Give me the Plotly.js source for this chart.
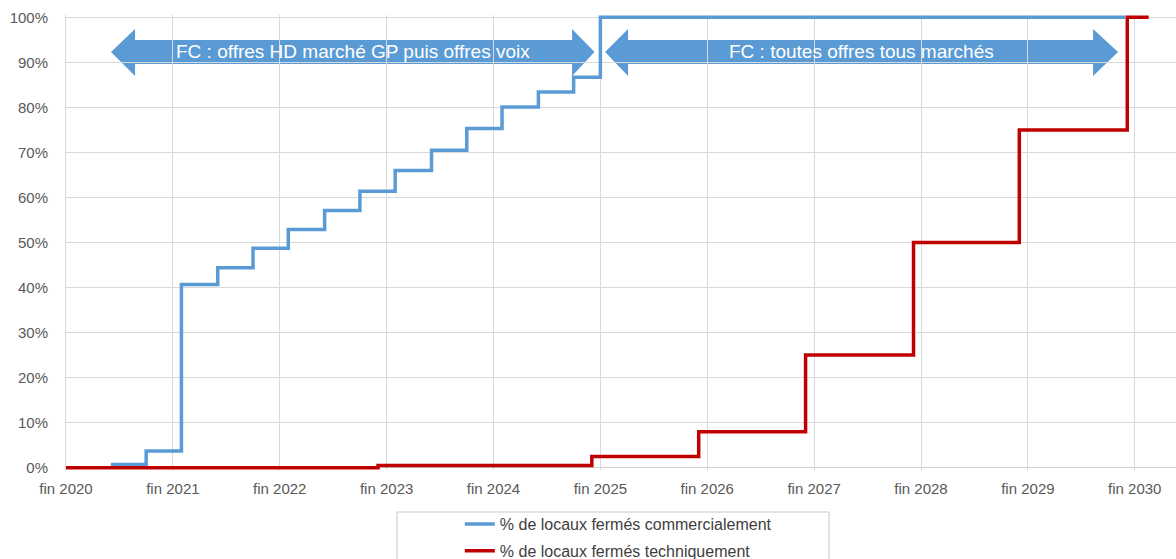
<!DOCTYPE html>
<html>
<head>
<meta charset="utf-8">
<script src="https://cdn.plot.ly/plotly-3.0.1.min.js"></script>
<style>
html,body{margin:0;padding:0;background:#fff;}
#chart{width:1176px;height:559px;}
</style>
</head>
<body>
<div id="chart"></div>
<script>
// Tick positions (years after "fin 2020") and labels
const tickPos = [0,1,2,3,4,5,6,7,8,9,10];
const tickLabels = ["fin 2020","fin 2021","fin 2022","fin 2023","fin 2024","fin 2025","fin 2026","fin 2027","fin 2028","fin 2029","fin 2030"];
const yTickVals = [0,0.1,0.2,0.3,0.4,0.5,0.6,0.7,0.8,0.9,1];
const yTickText = ["0%","10%","20%","30%","40%","50%","60%","70%","80%","90%","100%"];

// Series: % de locaux fermés commercialement (step starts)
const commX = [0.42,0.75,1.08,1.42,1.75,2.08,2.42,2.75,3.08,3.42,3.75,4.08,4.42,4.75,5.00,9.91];
const commY = [0.007,0.037,0.407,0.444,0.487,0.529,0.571,0.614,0.660,0.705,0.753,0.801,0.834,0.867,1.0,1.0];

// Series: % de locaux fermés techniquement
const techX = [0,2.92,4.92,5.92,6.92,7.93,8.92,9.93,10.13];
const techY = [0,0.005,0.025,0.08,0.25,0.50,0.75,1.0,1.0];

const seriesNames = ["% de locaux fermés commercialement","% de locaux fermés techniquement"];
const arrowLabels = ["FC : offres HD marché GP puis offres voix","FC : toutes offres tous marchés"];

const BLUE = "#5B9BD5", RED = "#C00000";
const FONT = "Liberation Sans, Arial, sans-serif";

// double-headed block arrow path (x in axis units, y in axis units)
function dblArrow(xl, xlb, xrb, xr, yt, yb, ht, hb){
  const ym = (yt+yb)/2;
  return `M${xl},${ym} L${xlb},${ht} L${xlb},${yt} L${xrb},${yt} L${xrb},${ht} L${xr},${ym} L${xrb},${hb} L${xrb},${yb} L${xlb},${yb} L${xlb},${hb} Z`;
}

const traces = [
  {x: commX, y: commY, type:"scatter", mode:"lines", line:{shape:"hv", color:BLUE, width:3.5},
   name: seriesNames[0], legendgroup:"a", hoverinfo:"skip"},
  {x: techX, y: techY, type:"scatter", mode:"lines", line:{shape:"hv", color:RED, width:3.5},
   name: seriesNames[1], legendgroup:"b", hoverinfo:"skip"}
];

const layout = {
  width:1176, height:559,
  margin:{l:66, r:0, t:15, b:89, autoexpand:false},
  paper_bgcolor:"#fff", plot_bgcolor:"#fff",
  font:{family:FONT, color:"#595959", size:15},
  showlegend:true,
  legend:{x:0.391, xref:"container", xanchor:"left", y:0.093, yref:"container", yanchor:"top", orientation:"v",
          font:{family:FONT, size:16, color:"#404040"}, bgcolor:"rgba(0,0,0,0)",
          borderwidth:0, traceorder:"grouped", tracegroupgap:3},
  xaxis:{range:[0,10.386], tickvals:tickPos, ticktext:tickLabels, showgrid:true,
         gridcolor:"#d9d9d9", gridwidth:1, zeroline:false, showline:false, ticks:"",
         ticklabelstandoff:8, tickfont:{family:FONT, size:15, color:"#595959"}, fixedrange:true},
  yaxis:{range:[-0.005,1.005], tickvals:yTickVals, ticktext:yTickText, showgrid:true,
         gridcolor:"#d9d9d9", gridwidth:1, zeroline:true, zerolinecolor:"#d0d0d0", zerolinewidth:1,
         showline:true, linecolor:"#d9d9d9", linewidth:1, ticks:"",
         ticklabelstandoff:14, tickfont:{family:FONT, size:15, color:"#595959"}, fixedrange:true},
  shapes:[
    {type:"path", xref:"x", yref:"y", layer:"below",
     path: dblArrow(0.421,0.646,4.735,4.945,0.9495,0.8962,0.9739,0.8696),
     fillcolor:BLUE, line:{width:0}},
    {type:"path", xref:"x", yref:"y", layer:"below",
     path: dblArrow(5.044,5.259,9.610,9.844,0.9495,0.8962,0.9739,0.8696),
     fillcolor:BLUE, line:{width:0}},
    {type:"rect", xref:"paper", yref:"paper", x0:0.2982, x1:0.6874, y0:-0.0923, y1:-0.215,
     line:{color:"#c8c8c8", width:1}, fillcolor:"rgba(0,0,0,0)"}
  ],
  annotations:[
    {x:2.686, y:0.923, xref:"x", yref:"y", text:arrowLabels[0], showarrow:false,
     font:{family:FONT, size:19, color:"#ffffff"}},
    {x:7.444, y:0.923, xref:"x", yref:"y", text:arrowLabels[1], showarrow:false,
     font:{family:FONT, size:19, color:"#ffffff"}}
  ]
};

Plotly.newPlot("chart", traces, layout, {displayModeBar:false, staticPlot:true});
</script>
</body>
</html>
